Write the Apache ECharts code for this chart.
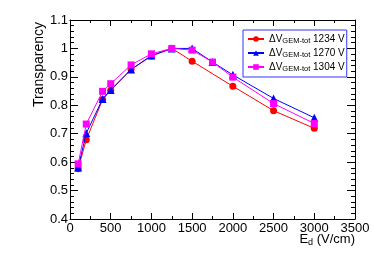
<!DOCTYPE html>
<html><head><meta charset="utf-8">
<script src="https://cdn.jsdelivr.net/npm/echarts@6/dist/echarts.min.js"></script>
<style>html,body{margin:0;padding:0;background:#fff}#c{width:374px;height:255px}</style>
</head><body><div id="c"></div>
<script>
// Data
const driftField = [100, 200, 400, 500, 750, 1000, 1250, 1500, 1750, 2000, 2500, 3000];
const v1234 = [0.577, 0.679, 0.820, 0.853, 0.926, 0.973, 1.000, 0.955, null, 0.867, 0.781, 0.719];
const v1270 = [0.581, 0.702, 0.822, 0.854, 0.926, 0.975, 1.000, 1.000, 0.952, 0.907, 0.824, 0.756];
const v1304 = [0.594, 0.734, 0.849, 0.876, 0.942, 0.981, 1.000, 0.994, 0.952, 0.899, 0.806, 0.736];
const seriesNames = ['1234', '1270', '1304'];
const xTicks = {min: 0, max: 3500, interval: 500};
const yTicks = {min: 0.4, max: 1.1, interval: 0.1};

const FONT = "'Liberation Sans', Arial, sans-serif";
function pairs(vals) {
  const out = [];
  driftField.forEach((x, i) => { if (vals[i] !== null) out.push([x, vals[i]]); });
  return out;
}
const colors = ['#ff0000', '#0000ff', '#ff00ff'];
const symbols = ['circle', 'triangle', 'rect'];
const symbolSizes = [7, 8, 7];
const valueSets = [v1234, v1270, v1304];

function xAxisCfg(pos, labels) {
  return {
    type: 'value', position: pos, min: xTicks.min, max: xTicks.max, interval: xTicks.interval,
    axisLine: {show: true, onZero: false, lineStyle: {color: '#000', width: 1}},
    axisTick: {show: true, inside: true, length: 6, lineStyle: {color: '#000'}},
    minorTick: {show: true, splitNumber: 2, length: 3, lineStyle: {color: '#000'}},
    splitLine: {show: false},
    axisLabel: {show: labels, color: '#000', fontFamily: FONT, fontSize: 13, margin: 3,
      showMinLabel: true, showMaxLabel: true, hideOverlap: false, formatter: v => String(v)}
  };
}
function yAxisCfg(pos, labels) {
  return {
    type: 'value', position: pos, min: yTicks.min, max: yTicks.max, interval: yTicks.interval,
    axisLine: {show: true, onZero: false, lineStyle: {color: '#000', width: 1}},
    axisTick: {show: true, inside: true, length: 8, lineStyle: {color: '#000'}},
    minorTick: {show: true, splitNumber: 5, length: 4, lineStyle: {color: '#000'}},
    splitLine: {show: false},
    axisLabel: {show: labels, color: '#000', fontFamily: FONT, fontSize: 13, margin: 2,
      showMinLabel: true, showMaxLabel: true, formatter: v => String(Math.round(v * 10) / 10)}
  };
}

const xMain = xAxisCfg('bottom', true);
xMain.name = '{m|E}{s|d}{m| (V/cm)}';
xMain.nameLocation = 'end';
xMain.nameGap = 0;
xMain.nameMoveOverlap = false;
xMain.nameTextStyle = {align: 'right', verticalAlign: 'top', padding: [13, 0, 0, 0], color: '#000', fontFamily: FONT,
  rich: {m: {fontSize: 13, fontFamily: FONT, color: '#000'}, s: {fontSize: 9, fontFamily: FONT, color: '#000', padding: [6, 0, 0, 0]}}};

const yMain = yAxisCfg('left', true);
yMain.name = 'Transparency';
yMain.nameLocation = 'end';
yMain.nameRotate = 90;
yMain.nameGap = -2;
yMain.nameMoveOverlap = false;
yMain.nameTextStyle = {align: 'right', verticalAlign: 'bottom', padding: [0, 0, 24, 0], color: '#000', fontFamily: FONT, fontSize: 14};

const chart = echarts.init(document.getElementById('c'), null, {renderer: 'canvas'});
chart.setOption({
  backgroundColor: '#fff',
  animation: false,
  grid: {left: 70, top: 20, right: 19, bottom: 36, containLabel: false, outerBoundsMode: 'none'},
  xAxis: [xMain, xAxisCfg('top', false)],
  yAxis: [yMain, yAxisCfg('right', false)],
  legend: {
    orient: 'vertical', left: 243, top: 30,
    padding: [4, 2, 4, 4], itemGap: 3, itemWidth: 16, itemHeight: 7,
    backgroundColor: '#fff', borderColor: '#3333ff', borderWidth: 1,
    data: seriesNames,
    formatter: n => '{m|ΔV}{s|GEM-tot}{m| ' + n + ' V}',
    textStyle: {fontFamily: FONT, color: '#000',
      rich: {m: {fontSize: 10, fontFamily: FONT, color: '#000'}, s: {fontSize: 7.5, fontFamily: FONT, color: '#000', padding: [4, 0, 0, 0]}}}
  },
  series: seriesNames.map((n, i) => ({
    name: n, type: 'line', xAxisIndex: 0, yAxisIndex: 0,
    data: pairs(valueSets[i]),
    symbol: symbols[i], symbolSize: symbolSizes[i],
    itemStyle: {color: colors[i]},
    lineStyle: {color: colors[i], width: 1},
    z: 2 + i
  }))
});
</script></body></html>
